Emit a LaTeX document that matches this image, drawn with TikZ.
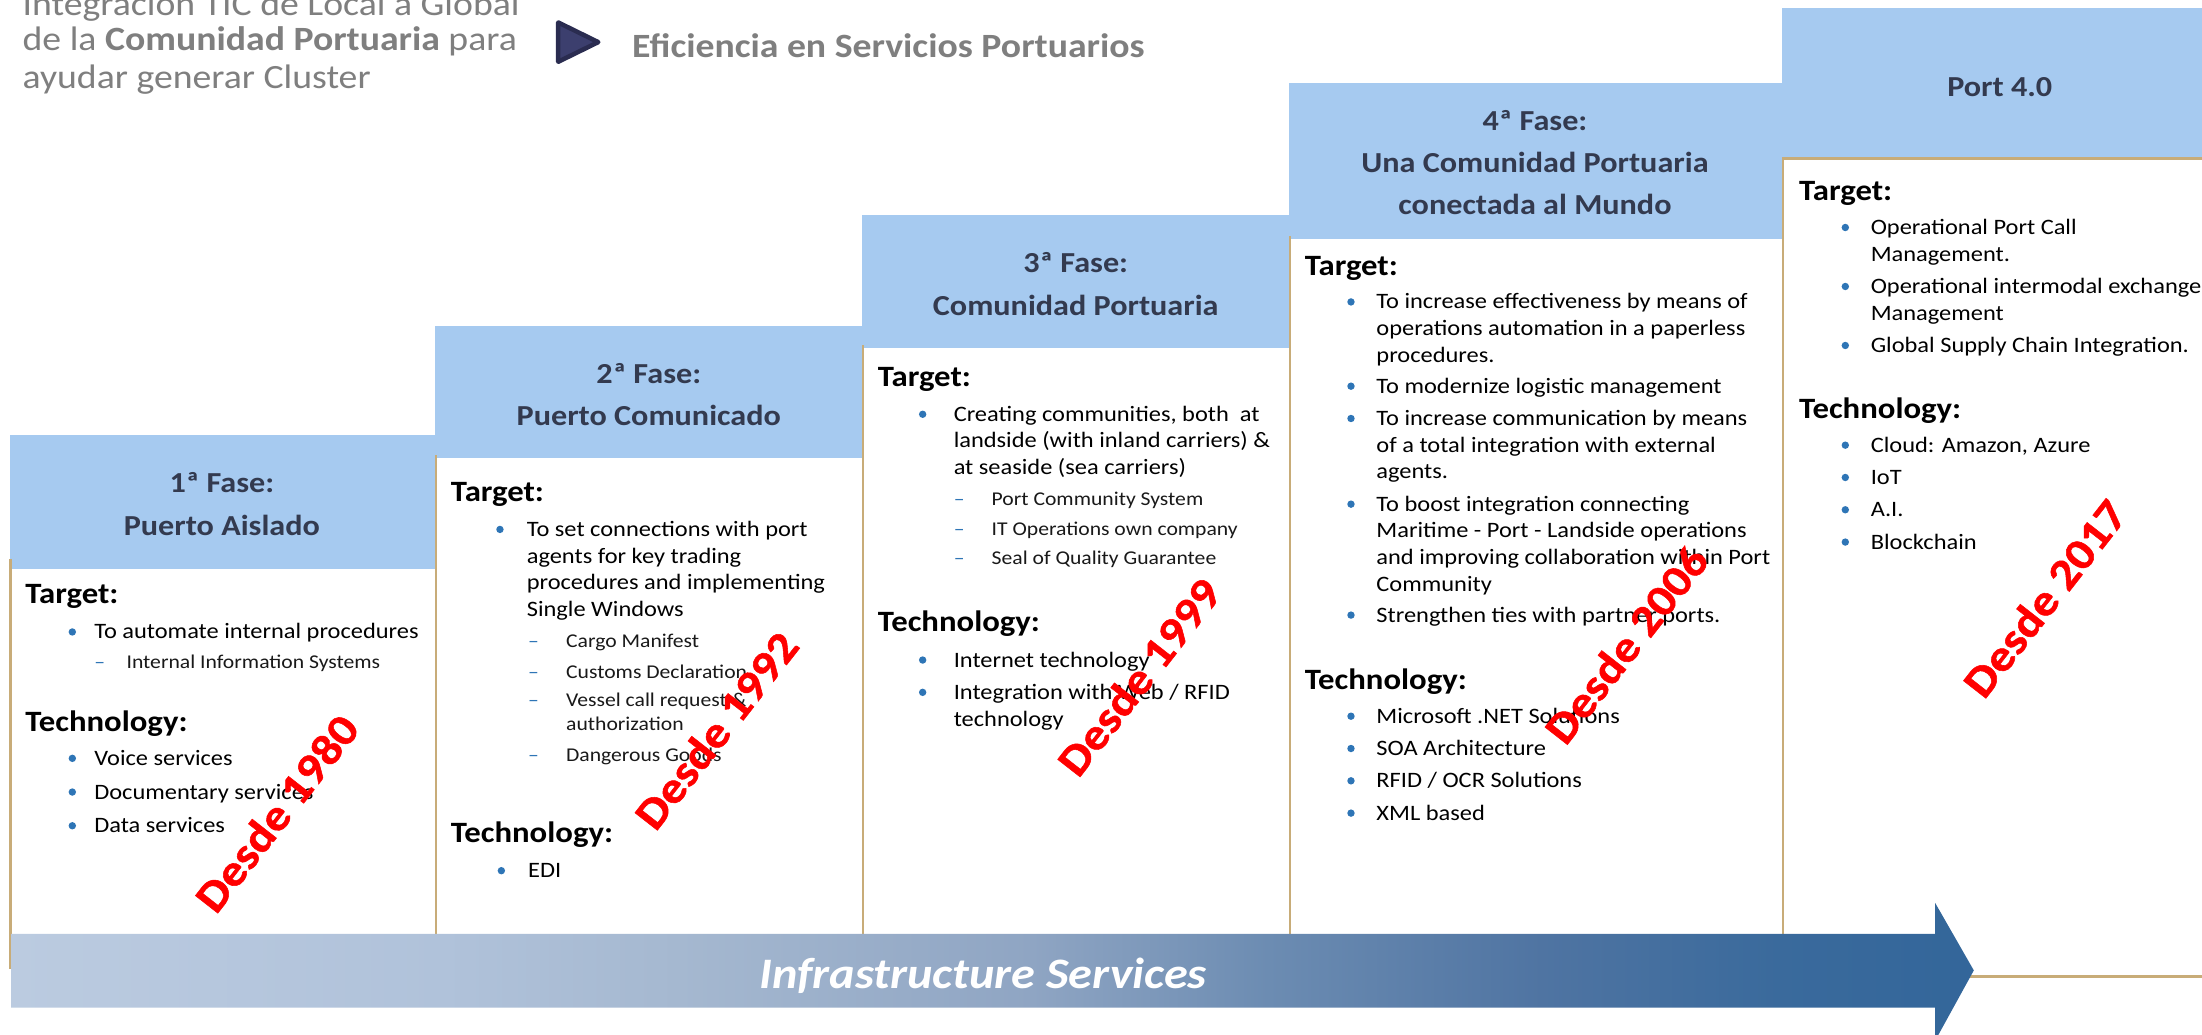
\documentclass[tikz,border=0pt]{standalone}
\usepackage{fontspec}
\setmainfont[FakeStretch=1.11]{Carlito}
\newfontfamily\sincefont[FakeStretch=1.11,BoldFeatures={FakeBold=1.2}]{Carlito}
\newcount\txtcnt
\definecolor{headblue}{HTML}{A6CAF0}
\definecolor{goldline}{HTML}{C8AC78}
\definecolor{headink}{HTML}{333A4F}
\definecolor{dotblue}{HTML}{2E75B6}
\definecolor{grayink}{HTML}{7F7F7F}
\definecolor{barA}{HTML}{BBCBE0}
\definecolor{barB}{HTML}{B0C2DA}
\definecolor{barC}{HTML}{A5B8D0}
\definecolor{barD}{HTML}{8FA5C3}
\definecolor{barE}{HTML}{6C8CB2}
\definecolor{barF}{HTML}{4F74A2}
\definecolor{barG}{HTML}{3A6A9C}
\definecolor{barH}{HTML}{33669A}
\definecolor{iconout}{HTML}{2A2C50}
\definecolor{iconin}{HTML}{3C3F6E}
\pgfdeclarehorizontalshading{barshade}{100bp}{color(0bp)=(barA); color(25bp)=(barA); color(36bp)=(barB); color(42bp)=(barC); color(51bp)=(barD); color(57bp)=(barE); color(64bp)=(barF); color(70bp)=(barG); color(75bp)=(barH); color(100bp)=(barH)}
\tikzset{
  bodytxt/.style={anchor=base west,inner sep=0pt,font=\fontsize{22}{26}\selectfont,text=black},
  subtxt/.style={anchor=base west,inner sep=0pt,font=\fontsize{19.5}{23}\selectfont,text=black!90},
  secttxt/.style={anchor=base west,inner sep=0pt,font=\bfseries\fontsize{29.5}{34}\selectfont,text=black},
  headtxt/.style={anchor=base,inner sep=0pt,font=\bfseries\fontsize{29}{34}\selectfont,text=headink},
  graytxt/.style={anchor=base west,inner sep=0pt,font=\fontsize{34}{40}\selectfont,text=grayink},
  sincetxt/.style={inner sep=0pt,rotate=52,font=\sincefont\bfseries\fontsize{44}{50}\selectfont,text=red},
  dashtxt/.style={anchor=base west,inner sep=0pt,font=\fontsize{19.5}{23}\selectfont,text=dotblue},
  headbox/.style={fill=headblue},
  goldrule/.style={draw=goldline,line width=2.6pt},
}
\newcommand{\Tx}[4]{\global\advance\txtcnt by 1 \node[#1] (t\the\txtcnt) at (#2,#3+5) {#4};}
\newcommand{\Sect}[3]{\Tx{secttxt}{#1}{#2+2}{#3}}
\newcommand{\Hd}[3]{\Tx{headtxt}{#1}{#2+2}{#3}}
\newcommand{\Gr}[3]{\Tx{graytxt}{#1}{#2+3}{#3}}
\def\BuOff{15.5}
\newcommand{\Bu}[3]{\fill[dotblue] (#1-\BuOff,#2) circle (3.7pt);\Tx{bodytxt}{#1}{#2}{#3}}
\newcommand{\Bl}[3]{\Tx{bodytxt}{#1}{#2}{#3}}
\newcommand{\Ds}[3]{\Tx{dashtxt}{#1-27}{#2}{–}\Tx{subtxt}{#1}{#2}{#3}}
\newcommand{\Sl}[3]{\Tx{subtxt}{#1}{#2}{#3}}
\newcommand{\Since}[3]{\global\advance\txtcnt by 1 \node[sincetxt] (t\the\txtcnt) at (#1,#2) {#3};}
\begin{document}
\begin{tikzpicture}[x=1.40434pt,y=-1.40434pt]
\useasboundingbox (0,0) rectangle (1568,736.3);
\clip (0,0) rectangle (1568,736.3);
\fill[white] (0,0) rectangle (1568,736.3);
% headers
\fill[headbox] (7,310) rectangle (310,405);
\fill[headbox] (310,232) rectangle (614,326);
\fill[headbox] (614,153) rectangle (918,248);
\fill[headbox] (918,59) rectangle (1269,170);
\fill[headbox] (1269,6) rectangle (1568,113);
% gold rules
\draw[goldrule] (7.5,398) -- (7.5,689) -- (12,689);
\draw[goldrule] (310.5,324) -- (310.5,668);
\draw[goldrule] (614.5,246) -- (614.5,668);
\draw[goldrule] (918.5,168) -- (918.5,668);
\draw[goldrule] (1568,113) -- (1269.5,113) -- (1269.5,668);
\draw[goldrule] (1400,695.5) -- (1568,695.5);
% top left
\Gr{16}{3}{Integración TIC de Local a Global}
\Gr{16}{28}{de la \textbf{Comunidad Portuaria} para}
\Gr{16}{55}{ayudar generar Cluster}
\filldraw[draw=iconout,fill=iconin,line width=4.5pt,line join=round] (397.5,16) -- (426,30) -- (397.5,44) -- cycle;
\Gr{450}{33}{\bfseries Eficiencia en Servicios Portuarios}
% panel 1
\Hd{158}{344}{1ª Fase:}
\Hd{158}{374}{Puerto Aislado}
\Sect{18}{423}{Target:}
\Bu{67}{450}{To automate internal procedures}
\Tx{dashtxt}{67}{471}{–}
\Sl{90}{471}{Internal Information Systems}
\Sect{18}{514}{Technology:}
\Bu{67}{540}{Voice services}
\Bu{67}{564}{Documentary services}
\Bu{67}{588}{Data services}
% panel 2
\def\BuOff{19}
\Hd{462}{266}{2ª Fase:}
\Hd{462}{296}{Puerto Comunicado}
\Sect{321}{350}{Target:}
\Bu{375}{377}{To set connections with port}
\Bl{375}{396}{agents for key trading}
\Bl{375}{415}{procedures and implementing}
\Bl{375}{434}{Single Windows}
\Ds{403}{456}{Cargo Manifest}
\Ds{403}{478}{Customs Declaration}
\Ds{403}{498}{Vessel call request \&}
\Sl{403}{515}{authorization}
\Ds{403}{537}{Dangerous Goods}
\Sect{321}{593}{Technology:}
\Bu{376}{620}{EDI}
% panel 3
\def\BuOff{22}
\Hd{766}{187}{3ª Fase:}
\Hd{766}{218}{Comunidad Portuaria}
\Sect{625}{268}{Target:}
\Bu{679}{295}{Creating communities, both \ at}
\Bl{679}{314}{landside (with inland carriers) \&}
\Bl{679}{333}{at seaside (sea carriers)}
\Ds{706}{355}{Port Community System}
\Ds{706}{376}{IT Operations own company}
\Ds{706}{397}{Seal of Quality Guarantee}
\Sect{625}{443}{Technology:}
\Bu{679}{470}{Internet technology}
\Bu{679}{493}{Integration with Web / RFID}
\Bl{679}{512}{technology}
% panel 4
\def\BuOff{18}
\Hd{1093}{86}{4ª Fase:}
\Hd{1093}{116}{Una Comunidad Portuaria}
\Hd{1093}{146}{conectada al Mundo}
\Sect{929}{189}{Target:}
\Bu{980}{215}{To increase effectiveness by means of}
\Bl{980}{234}{operations automation in a paperless}
\Bl{980}{253}{procedures.}
\Bu{980}{275}{To modernize logistic management}
\Bu{980}{298}{To increase communication by means}
\Bl{980}{317}{of a total integration with external}
\Bl{980}{336}{agents.}
\Bu{980}{359}{To boost integration connecting}
\Bl{980}{378}{Maritime - Port - Landside operations}
\Bl{980}{397}{and improving collaboration within Port}
\Bl{980}{416}{Community}
\Bu{980}{438}{Strengthen ties with partner ports.}
\Sect{929}{484}{Technology:}
\Bu{980}{510}{Microsoft .NET Solutions}
\Bu{980}{533}{SOA Architecture}
\Bu{980}{556}{RFID / OCR Solutions}
\Bu{980}{579}{XML based}
% panel 5
\Hd{1424}{62}{Port 4.0}
\Sect{1281}{136}{Target:}
\Bu{1332}{162}{Operational Port Call}
\Bl{1332}{181}{Management.}
\Bu{1332}{204}{Operational intermodal exchange}
\Bl{1332}{223}{Management}
\Bu{1332}{246}{Global Supply Chain Integration.}
\Sect{1281}{291}{Technology:}
\Bu{1332}{317}{Cloud: Amazon, Azure}
\Bu{1332}{340}{IoT}
\Bu{1332}{363}{A.I.}
\Bu{1332}{386}{Blockchain}
% bar
\shade[shading=barshade] (8,665) -- (1378,665) -- (1378,643) -- (1405.5,691) -- (1378,741) -- (1378,717.5) -- (8,717.5) -- cycle;
\Tx{anchor=base,inner sep=0pt,font=\bfseries\itshape\fontsize{43.5}{48}\selectfont,text=white}{700}{699}{Infrastructure Services}
% since
\Since{197}{579}{Desde 1980}
\Since{510}{520}{Desde 1992}
\Since{811}{482}{Desde 1999}
\Since{1158}{459}{Desde 2006}
\Since{1456}{426}{Desde 2017}
\end{tikzpicture}
\end{document}
